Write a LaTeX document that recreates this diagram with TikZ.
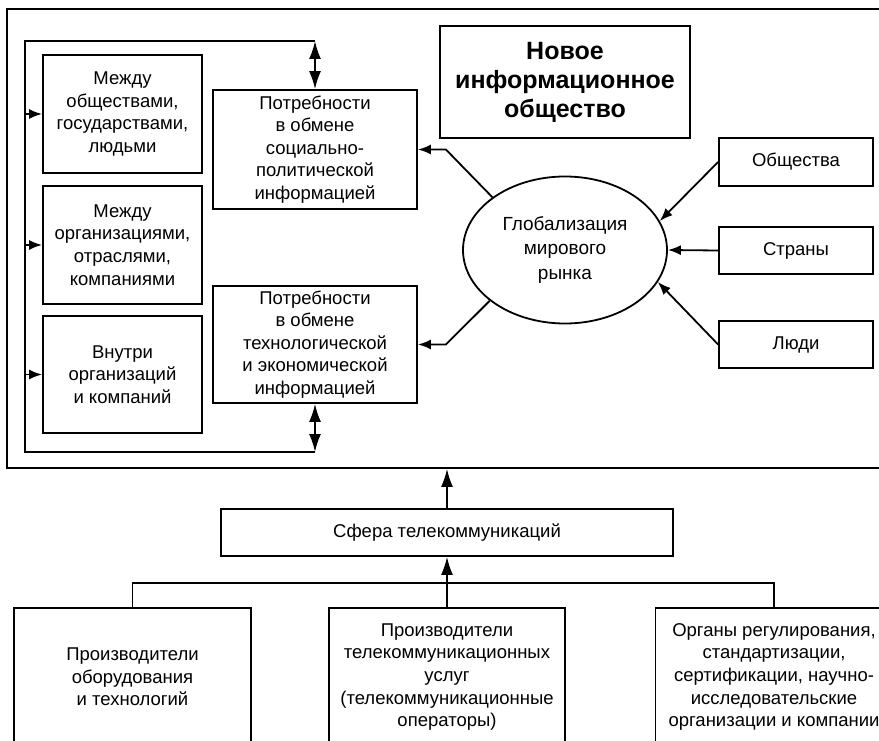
\documentclass[tikz,border=0pt]{standalone}
\usepackage{fontspec}
\setmainfont{Liberation Sans}
\usetikzlibrary{positioning, calc, arrows.meta, shapes.geometric}
\tikzset{
    txtbox/.style={rectangle, draw, line width=1.8pt, align=center, inner sep=0pt, font=\fontsize{18.5}{22.6}\selectfont},
    ovalnode/.style={ellipse, draw, line width=1.8pt, align=center, inner sep=0pt, font=\fontsize{19}{24.5}\selectfont},
    titlenode/.style={rectangle, draw, line width=1.8pt, align=center, inner sep=0pt, font=\bfseries\fontsize{25}{29}\selectfont},
    link/.style={line width=1.8pt},
    arrow/.style={-{Latex[length=13pt,width=10pt]}, line width=1.8pt},
    bigarrow/.style={-{Latex[length=18pt,width=12pt]}, line width=1.8pt},
    twoway/.style={{Latex[length=18pt,width=12pt]}-{Latex[length=18pt,width=12pt]}, line width=1.8pt},
}

\begin{document}
\begin{tikzpicture}[x=1pt, y=-1pt]
    \useasboundingbox (0,0) rectangle (879,741);
    \clip (0,0) rectangle (879,741);

    % --- 1. NEW SOCIETY FRAME ---
    \node[rectangle, draw, line width=1.8pt, minimum width=893pt, minimum height=459pt] (soc) at (453.5,238.5) {};

    % Between whom
    \node[txtbox, minimum width=159pt, minimum height=118pt] (mob) at (122.5,114) {Между\\обществами,\\государствами,\\людьми};
    \node[txtbox, minimum width=159pt, minimum height=118pt] (morg) at (122.5,245) {Между\\организациями,\\отраслями,\\компаниями};
    \node[txtbox, minimum width=159pt, minimum height=117pt] (vnut) at (122.5,374.5) {Внутри\\организаций\\и компаний};

    % Needs
    \node[txtbox, minimum width=204pt, minimum height=119pt] (psoc) at (315,149.5) {Потребности\\в обмене\\социально-\\политической\\информацией};
    \node[txtbox, minimum width=204pt, minimum height=117pt] (ptech) at (315,344.5) {Потребности\\в обмене\\технологической\\и экономической\\информацией};

    % Title
    \node[titlenode, minimum width=250pt, minimum height=112pt] (title) at (565,82) {Новое\\информационное\\общество};

    % Globalization
    \node[ovalnode, minimum width=204pt, minimum height=147pt] (glob) at (565,250) {Глобализация\\мирового\\рынка};

    % Who
    \node[txtbox, minimum width=154pt, minimum height=48pt] (obsh) at (796,162) {Общества};
    \node[txtbox, minimum width=154pt, minimum height=47pt] (stran) at (796,250.5) {Страны};
    \node[txtbox, minimum width=154pt, minimum height=47pt] (lyudi) at (796,344.5) {Люди};

    % Loop
    \coordinate (lt) at (25,41);
    \coordinate (lb) at (25,452);
    \draw[link] (psoc.north |- lt) -- (lt) -- (lb) -- (ptech.south |- lb);
    \draw[twoway] (psoc.north |- lt) -- (psoc.north);
    \draw[twoway] (ptech.south) -- (ptech.south |- lb);
    \foreach \b in {mob, morg, vnut}
        \draw[arrow] (lt |- \b.west) -- (\b.west);

    % Globalization arrows
    \draw[arrow] (glob.144) -- ([xshift=28pt]psoc.east) -- (psoc.east);
    \draw[arrow] (glob.214) -- ([xshift=28pt]ptech.east) -- (ptech.east);
    \draw[arrow] (obsh.west) -- (glob.17);
    \draw[arrow] (stran.west) -- (glob.east);
    \draw[arrow] (lyudi.west) -- (glob.341);

    % --- 2. TELECOM ---
    \node[txtbox, minimum width=452pt, minimum height=47pt] (sfera) at (447,532.5) {Сфера телекоммуникаций};
    \draw[bigarrow] (sfera.north) -- (sfera.north |- soc.south);

    \node[txtbox, minimum width=237pt, minimum height=138pt] (proizv) at (132.5,677) {Производители\\оборудования\\и технологий};
    \node[txtbox, minimum width=236pt, minimum height=138pt] (oper) at (447,677) {Производители\\телекоммуникационных\\услуг\\(телекоммуникационные\\операторы)};
    \node[txtbox, minimum width=237pt, minimum height=138pt] (organ) at (774,677) {Органы регулирования,\\стандартизации,\\сертификации, научно-\\исследовательские\\организации и компании};

    \coordinate (fork) at (447,583);
    \draw[link] (proizv.north) |- (fork) -| (organ.north);
    \draw[link] (oper.north) -- (fork);
    \draw[bigarrow] (fork) -- (sfera.south);

\end{tikzpicture}
\end{document}
